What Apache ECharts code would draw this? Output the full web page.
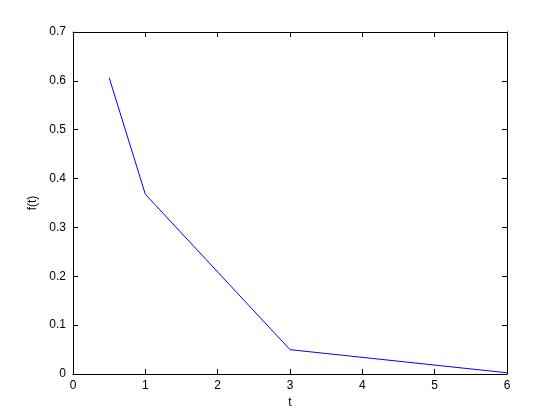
<!DOCTYPE html>
<html><head><meta charset="utf-8">
<script src="https://cdn.jsdelivr.net/npm/echarts@6/dist/echarts.min.js"></script>
<style>html,body{margin:0;padding:0;background:#fff}#c{width:560px;height:420px}</style>
</head><body><div id="c"></div>
<script>
var tValues = [0.5, 1, 3, 6];
var fValues = [0.6065, 0.3679, 0.0498, 0.0025];
var xTicks = [0, 1, 2, 3, 4, 5, 6];
var yTicks = [0, 0.1, 0.2, 0.3, 0.4, 0.5, 0.6, 0.7];

var chart = echarts.init(document.getElementById('c'), null, {renderer: 'canvas'});
var font = 'Liberation Sans, Arial, Helvetica, sans-serif';
var lineStyle = {color: '#000', width: 1};
function axisBase(extra) {
  return Object.assign({
    type: 'value',
    axisLine: {show: true, onZero: false, lineStyle: lineStyle},
    axisTick: {show: true, inside: true, length: 5, lineStyle: lineStyle},
    splitLine: {show: false},
    axisLabel: {color: '#000', fontFamily: font, fontSize: 12}
  }, extra);
}
chart.setOption({
  animation: false,
  backgroundColor: '#fff',
  grid: {left: 73, right: 53, top: 32, bottom: 46, containLabel: false},
  xAxis: [
    axisBase({min: xTicks[0], max: xTicks[xTicks.length-1], interval: 1, position: 'bottom',
      name: 't', nameLocation: 'middle', nameGap: 23,
      nameTextStyle: {color: '#000', fontFamily: font, fontSize: 12},
      axisLabel: {color: '#000', fontFamily: font, fontSize: 12, margin: 6}}),
    axisBase({min: xTicks[0], max: xTicks[xTicks.length-1], interval: 1, position: 'top',
      axisLabel: {show: false}})
  ],
  yAxis: [
    axisBase({min: yTicks[0], max: yTicks[yTicks.length-1], interval: 0.1, position: 'left',
      name: 'f(t)', nameLocation: 'middle', nameGap: 33,
      nameTextStyle: {color: '#000', fontFamily: font, fontSize: 12},
      axisLabel: {color: '#000', fontFamily: font, fontSize: 12, margin: 7}}),
    axisBase({min: yTicks[0], max: yTicks[yTicks.length-1], interval: 0.1, position: 'right',
      axisLabel: {show: false}})
  ],
  series: [{
    type: 'line',
    data: tValues.map(function (t, i) { return [t, fValues[i]]; }),
    showSymbol: false,
    lineStyle: {color: '#0000ff', width: 1},
    itemStyle: {color: '#0000ff'}
  }]
});
</script></body></html>
